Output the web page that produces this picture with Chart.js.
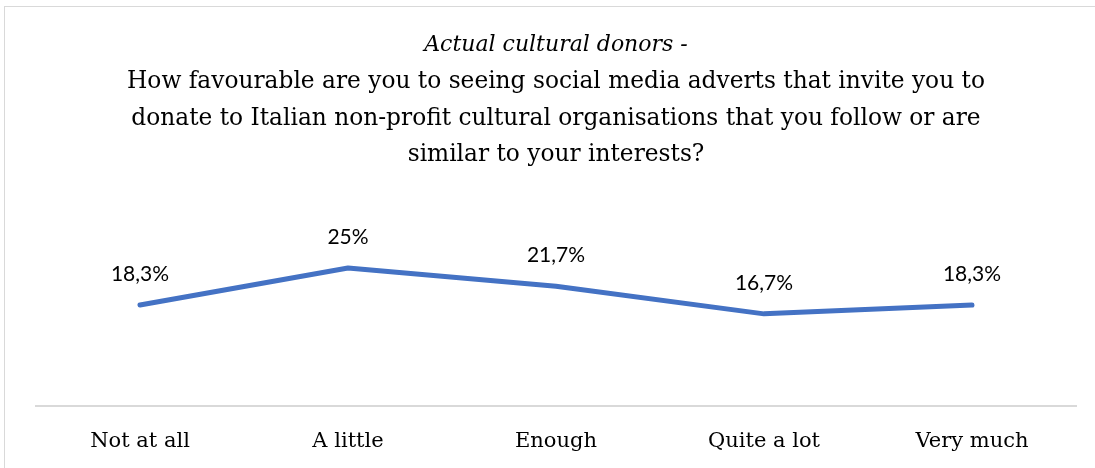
<!DOCTYPE html>
<html>
<head>
<meta charset="utf-8">
<script src="https://cdn.jsdelivr.net/npm/chart.js@4.4.1/dist/chart.umd.min.js"></script>
<style>
  html, body { margin: 0; padding: 0; background: #fff; overflow: hidden; }
  #wrap { position: relative; width: 1095px; height: 468px; overflow: hidden; }
  #frame {
    position: absolute; left: 4px; top: 6px; width: 1200px; height: 600px;
    border: 1px solid #d9d9d9;
  }
  canvas { position: absolute; left: 0; top: 0; }
</style>
</head>
<body>
<div id="wrap">
  <div id="frame"></div>
  <canvas id="donorsChart" width="1095" height="468"></canvas>
</div>
<script>
// Survey answers and share of respondents (%)
const categories = ['Not at all', 'A little', 'Enough', 'Quite a lot', 'Very much'];
const shares = [18.3, 25, 21.7, 16.7, 18.3];

const titleLine = 'Actual cultural donors -';
const questionLines = [
  'How favourable are you to seeing social media adverts that invite you to',
  'donate to Italian non-profit cultural organisations that you follow or are',
  'similar to your interests?'
];

const serif = '"DejaVu Serif", "Liberation Serif", serif';

// writes the value above each point, with a decimal comma
const valueLabels = {
  id: 'valueLabels',
  afterDatasetsDraw(chart) {
    const ctx = chart.ctx;
    const meta = chart.getDatasetMeta(0);
    ctx.save();
    ctx.font = '21px Lato, "Open Sans", sans-serif';
    ctx.fillStyle = '#000';
    ctx.textAlign = 'center';
    ctx.textBaseline = 'middle';
    meta.data.forEach((pt, i) => {
      const txt = String(shares[i]).replace('.', ',') + '%';
      ctx.fillText(txt, pt.x, pt.y - 31);
    });
    ctx.restore();
  }
};

const ctx = document.getElementById('donorsChart');
new Chart(ctx, {
  type: 'line',
  data: {
    labels: categories,
    datasets: [{
      data: shares,
      borderColor: '#4472C4',
      borderWidth: 5,
      borderCapStyle: 'round',
      borderJoinStyle: 'round',
      pointRadius: 0,
      tension: 0,
      fill: false
    }]
  },
  options: {
    responsive: false,
    animation: false,
    layout: { padding: { top: 0, left: 36, right: 19, bottom: 0 } },
    plugins: {
      legend: { display: false },
      tooltip: { enabled: false },
      title: {
        display: true,
        text: titleLine,
        color: '#000',
        font: { family: serif, size: 22, style: 'italic', weight: 'normal', lineHeight: '30px' },
        padding: { top: 30, bottom: 4 }
      },
      subtitle: {
        display: true,
        text: questionLines,
        color: '#000',
        font: { family: serif, size: 23.3, weight: 'normal', lineHeight: '36.5px' },
        padding: { top: 0, bottom: 67 }
      }
    },
    scales: {
      x: {
        offset: true,
        grid: { display: false, drawTicks: false },
        border: { display: true, color: '#d9d9d9', width: 2 },
        ticks: { color: '#000', padding: 23, font: { family: serif, size: 21 } },
        afterFit(scale) { scale.height = 62; }
      },
      y: {
        display: false,
        min: 0,
        max: 30
      }
    }
  },
  plugins: [valueLabels]
});
</script>
</body>
</html>
